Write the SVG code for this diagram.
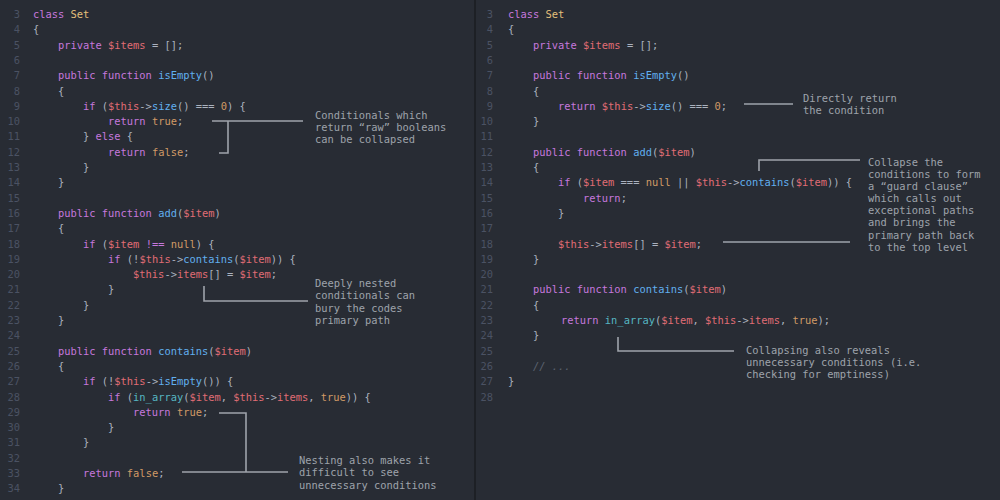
<svg xmlns="http://www.w3.org/2000/svg" width="1000" height="500" viewBox="0 0 1000 500">
<style>
text{font-family:"DejaVu Sans Mono","Liberation Mono",monospace;font-size:10.4px;white-space:pre;fill:#abb2bf}
.ln{fill:#4b5263;text-anchor:end}
.k{fill:#c678dd}.v{fill:#e06c75}.f{fill:#61afef}.n{fill:#d19a66}.c{fill:#e5c07b}.b{fill:#56b6c2}
.cm{fill:#5c6370;font-style:italic}
.note{fill:#9ea3ab}
.con{fill:none;stroke:#9ea3ab;stroke-width:1.6}
</style>
<rect width="1000" height="500" fill="#282c34"/>
<rect x="474" y="0" width="2" height="500" fill="#1d2025"/>
<g id="left-code" xml:space="preserve">
<text class="ln" x="20" y="18">3</text><text x="33" y="18"><tspan class="k">class</tspan> <tspan class="c">Set</tspan></text>
<text class="ln" x="20" y="33.3">4</text><text x="33" y="33.3">{</text>
<text class="ln" x="20" y="48.6">5</text><text x="33" y="48.6">    <tspan class="k">private</tspan> <tspan class="v">$items</tspan> = [];</text>
<text class="ln" x="20" y="63.9">6</text>
<text class="ln" x="20" y="79.2">7</text><text x="33" y="79.2">    <tspan class="k">public function</tspan> <tspan class="f">isEmpty</tspan>()</text>
<text class="ln" x="20" y="94.5">8</text><text x="33" y="94.5">    {</text>
<text class="ln" x="20" y="109.8">9</text><text x="33" y="109.8">        <tspan class="k">if</tspan> (<tspan class="v">$this</tspan>-&gt;<tspan class="f">size</tspan>() === <tspan class="n">0</tspan>) {</text>
<text class="ln" x="20" y="125.1">10</text><text x="33" y="125.1">            <tspan class="k">return</tspan> <tspan class="n">true</tspan>;</text>
<text class="ln" x="20" y="140.4">11</text><text x="33" y="140.4">        } <tspan class="k">else</tspan> {</text>
<text class="ln" x="20" y="155.7">12</text><text x="33" y="155.7">            <tspan class="k">return</tspan> <tspan class="n">false</tspan>;</text>
<text class="ln" x="20" y="171">13</text><text x="33" y="171">        }</text>
<text class="ln" x="20" y="186.3">14</text><text x="33" y="186.3">    }</text>
<text class="ln" x="20" y="201.6">15</text>
<text class="ln" x="20" y="216.9">16</text><text x="33" y="216.9">    <tspan class="k">public function</tspan> <tspan class="f">add</tspan>(<tspan class="v">$item</tspan>)</text>
<text class="ln" x="20" y="232.2">17</text><text x="33" y="232.2">    {</text>
<text class="ln" x="20" y="247.5">18</text><text x="33" y="247.5">        <tspan class="k">if</tspan> (<tspan class="v">$item</tspan> <tspan class="k">!==</tspan> <tspan class="n">null</tspan>) {</text>
<text class="ln" x="20" y="262.8">19</text><text x="33" y="262.8">            <tspan class="k">if</tspan> (!<tspan class="v">$this</tspan>-&gt;<tspan class="f">contains</tspan>(<tspan class="v">$item</tspan>)) {</text>
<text class="ln" x="20" y="278.1">20</text><text x="33" y="278.1">                <tspan class="v">$this</tspan>-&gt;<tspan class="v">items</tspan>[] = <tspan class="v">$item</tspan>;</text>
<text class="ln" x="20" y="293.4">21</text><text x="33" y="293.4">            }</text>
<text class="ln" x="20" y="308.7">22</text><text x="33" y="308.7">        }</text>
<text class="ln" x="20" y="324">23</text><text x="33" y="324">    }</text>
<text class="ln" x="20" y="339.3">24</text>
<text class="ln" x="20" y="354.6">25</text><text x="33" y="354.6">    <tspan class="k">public function</tspan> <tspan class="f">contains</tspan>(<tspan class="v">$item</tspan>)</text>
<text class="ln" x="20" y="369.9">26</text><text x="33" y="369.9">    {</text>
<text class="ln" x="20" y="385.2">27</text><text x="33" y="385.2">        <tspan class="k">if</tspan> (!<tspan class="v">$this</tspan>-&gt;<tspan class="f">isEmpty</tspan>()) {</text>
<text class="ln" x="20" y="400.5">28</text><text x="33" y="400.5">            <tspan class="k">if</tspan> (<tspan class="b">in_array</tspan>(<tspan class="v">$item</tspan>, <tspan class="v">$this</tspan>-&gt;<tspan class="v">items</tspan>, <tspan class="n">true</tspan>)) {</text>
<text class="ln" x="20" y="415.8">29</text><text x="33" y="415.8">                <tspan class="k">return</tspan> <tspan class="n">true</tspan>;</text>
<text class="ln" x="20" y="431.1">30</text><text x="33" y="431.1">            }</text>
<text class="ln" x="20" y="446.4">31</text><text x="33" y="446.4">        }</text>
<text class="ln" x="20" y="461.7">32</text>
<text class="ln" x="20" y="477">33</text><text x="33" y="477">        <tspan class="k">return</tspan> <tspan class="n">false</tspan>;</text>
<text class="ln" x="20" y="492.3">34</text><text x="33" y="492.3">    }</text>
</g>
<g id="right-code" xml:space="preserve">
<text class="ln" x="493" y="18">3</text><text x="508" y="18"><tspan class="k">class</tspan> <tspan class="c">Set</tspan></text>
<text class="ln" x="493" y="33.3">4</text><text x="508" y="33.3">{</text>
<text class="ln" x="493" y="48.6">5</text><text x="508" y="48.6">    <tspan class="k">private</tspan> <tspan class="v">$items</tspan> = [];</text>
<text class="ln" x="493" y="63.9">6</text>
<text class="ln" x="493" y="79.2">7</text><text x="508" y="79.2">    <tspan class="k">public function</tspan> <tspan class="f">isEmpty</tspan>()</text>
<text class="ln" x="493" y="94.5">8</text><text x="508" y="94.5">    {</text>
<text class="ln" x="493" y="109.8">9</text><text x="508" y="109.8">        <tspan class="k">return</tspan> <tspan class="v">$this</tspan>-&gt;<tspan class="f">size</tspan>() === <tspan class="n">0</tspan>;</text>
<text class="ln" x="493" y="125.1">10</text><text x="508" y="125.1">    }</text>
<text class="ln" x="493" y="140.4">11</text>
<text class="ln" x="493" y="155.7">12</text><text x="508" y="155.7">    <tspan class="k">public function</tspan> <tspan class="f">add</tspan>(<tspan class="v">$item</tspan>)</text>
<text class="ln" x="493" y="171">13</text><text x="508" y="171">    {</text>
<text class="ln" x="493" y="186.3">14</text><text x="508" y="186.3">        <tspan class="k">if</tspan> (<tspan class="v">$item</tspan> === <tspan class="n">null</tspan> || <tspan class="v">$this</tspan>-&gt;<tspan class="f">contains</tspan>(<tspan class="v">$item</tspan>)) {</text>
<text class="ln" x="493" y="201.6">15</text><text x="508" y="201.6">            <tspan class="k">return</tspan>;</text>
<text class="ln" x="493" y="216.9">16</text><text x="508" y="216.9">        }</text>
<text class="ln" x="493" y="232.2">17</text>
<text class="ln" x="493" y="247.5">18</text><text x="508" y="247.5">        <tspan class="v">$this</tspan>-&gt;<tspan class="v">items</tspan>[] = <tspan class="v">$item</tspan>;</text>
<text class="ln" x="493" y="262.8">19</text><text x="508" y="262.8">    }</text>
<text class="ln" x="493" y="278.1">20</text>
<text class="ln" x="493" y="293.4">21</text><text x="508" y="293.4">    <tspan class="k">public function</tspan> <tspan class="f">contains</tspan>(<tspan class="v">$item</tspan>)</text>
<text class="ln" x="493" y="308.7">22</text><text x="508" y="308.7">    {</text>
<text class="ln" x="493" y="324">23</text><text x="511" y="324">        <tspan class="k">return</tspan> <tspan class="b">in_array</tspan>(<tspan class="v">$item</tspan>, <tspan class="v">$this</tspan>-&gt;<tspan class="v">items</tspan>, <tspan class="n">true</tspan>);</text>
<text class="ln" x="493" y="339.3">24</text><text x="508" y="339.3">    }</text>
<text class="ln" x="493" y="354.6">25</text>
<text class="ln" x="493" y="369.9">26</text><text x="508" y="369.9">    <tspan class="cm">// ...</tspan></text>
<text class="ln" x="493" y="385.2">27</text><text x="508" y="385.2">}</text>
<text class="ln" x="493" y="400.5">28</text>
</g>
<g id="notes">
<text class="note" x="315" y="119">Conditionals which</text>
<text class="note" x="315" y="131">return “raw” booleans</text>
<text class="note" x="315" y="143">can be collapsed</text>
<text class="note" x="315" y="287">Deeply nested</text>
<text class="note" x="315" y="299">conditionals can</text>
<text class="note" x="315" y="312">bury the codes</text>
<text class="note" x="315" y="324">primary path</text>
<text class="note" x="299" y="464">Nesting also makes it</text>
<text class="note" x="299" y="476">difficult to see</text>
<text class="note" x="299" y="489">unnecessary conditions</text>
<text class="note" x="803" y="102">Directly return</text>
<text class="note" x="803" y="114">the condition</text>
<text class="note" x="868" y="166">Collapse the</text>
<text class="note" x="868" y="178">conditions to form</text>
<text class="note" x="868" y="190">a “guard clause”</text>
<text class="note" x="868" y="202">which calls out</text>
<text class="note" x="868" y="214">exceptional paths</text>
<text class="note" x="868" y="226">and brings the</text>
<text class="note" x="868" y="239">primary path back</text>
<text class="note" x="868" y="251">to the top level</text>
<text class="note" x="746" y="354">Collapsing also reveals</text>
<text class="note" x="746" y="366">unnecessary conditions (i.e.</text>
<text class="note" x="746" y="378">checking for emptiness)</text>
</g>
<g id="connectors" class="con">
<path class="con" d="M212 121H303M228 121V153H219"/>
<path class="con" d="M204 286V301H308"/>
<path class="con" d="M219 413H246V472M182 472H288"/>
<path class="con" d="M744 104H793"/>
<path class="con" d="M759 171V160H860"/>
<path class="con" d="M723 242H850"/>
<path class="con" d="M618 337V351H734"/>
</g>
</svg>
